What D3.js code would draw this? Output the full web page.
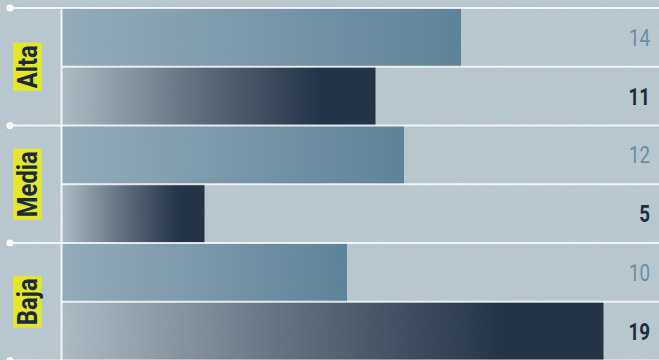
<!DOCTYPE html>
<html>
<head>
<meta charset="utf-8">
<script src="https://cdn.jsdelivr.net/npm/d3@7"></script>
<style>
  html, body { margin: 0; padding: 0; background: #b7c5cd; overflow: hidden; }
  svg { display: block; }
</style>
</head>
<body>
<div id="chart"></div>
<script>
// ---- data ----
const groups = ["Alta", "Media", "Baja"];
const series = ["Serie A", "Serie B"];
const valuesA = [14, 12, 10];
const valuesB = [11, 5, 19];
const xMax = 21;

const W = 659, H = 360;
const svg = d3.select("#chart").append("svg").attr("width", W).attr("height", H);
const defs = svg.append("defs");

// noise texture
const f = defs.append("filter").attr("id", "noise").attr("x", 0).attr("y", 0).attr("width", "100%").attr("height", "100%");
f.append("feTurbulence").attr("type", "fractalNoise").attr("baseFrequency", 0.9).attr("numOctaves", 2).attr("seed", 3).attr("result", "t");
f.append("feColorMatrix").attr("in", "t").attr("type", "matrix")
  .attr("values", "0 0 0 0 0.85  0 0 0 0 0.9  0 0 0 0 0.93  0 0 0 0.9 -0.38");

// gradients
const gA = defs.append("linearGradient").attr("id", "gradA").attr("x1", 0).attr("x2", 1).attr("y1", 0).attr("y2", 0);
gA.append("stop").attr("offset", 0).attr("stop-color", "#5e8398").attr("stop-opacity", 0.4);
gA.append("stop").attr("offset", 1).attr("stop-color", "#5e8398").attr("stop-opacity", 1);
const gB = defs.append("linearGradient").attr("id", "gradB").attr("x1", 0).attr("x2", 1).attr("y1", 0).attr("y2", 0);
gB.append("stop").attr("offset", 0).attr("stop-color", "#243346").attr("stop-opacity", 0.08);
gB.append("stop").attr("offset", 0.45).attr("stop-color", "#243346").attr("stop-opacity", 0.62);
gB.append("stop").attr("offset", 0.82).attr("stop-color", "#243346").attr("stop-opacity", 1);
gB.append("stop").attr("offset", 1).attr("stop-color", "#243346").attr("stop-opacity", 1);

svg.append("rect").attr("width", W).attr("height", H).attr("fill", "#b7c5cd");
svg.append("rect").attr("width", W).attr("height", H).attr("filter", "url(#noise)").attr("opacity", 0.35);

// scales
const x = d3.scaleLinear().domain([0, xMax]).range([62, 660.5]);
const y0 = d3.scaleBand().domain(groups).range([8, 360.5]).padding(0);
const y1 = d3.scaleBand().domain(series).range([0, y0.bandwidth()]).padding(0);

const rows = [];
groups.forEach((g, i) => {
  rows.push({ g, s: series[0], v: valuesA[i] });
  rows.push({ g, s: series[1], v: valuesB[i] });
});

// bars
svg.append("g").selectAll("rect").data(rows).join("rect")
  .attr("x", x(0))
  .attr("y", d => y0(d.g) + y1(d.s))
  .attr("width", d => x(d.v) - x(0))
  .attr("height", y1.bandwidth())
  .attr("fill", d => d.s === series[0] ? "url(#gradA)" : "url(#gradB)");

// grid lines
const lineCol = "rgba(255,255,255,0.82)";
const gl = svg.append("g");
const bounds = groups.map(g => y0(g)).concat([y0(groups[groups.length - 1]) + y0.bandwidth()]);
gl.selectAll("line.g").data(bounds).join("line").attr("class", "g")
  .attr("x1", 10).attr("x2", W).attr("y1", d => d).attr("y2", d => d)
  .attr("stroke", lineCol).attr("stroke-width", 2);
gl.selectAll("circle").data(bounds).join("circle")
  .attr("cx", 10).attr("cy", d => d).attr("r", 3.6).attr("fill", "#ffffff");
gl.selectAll("line.s").data(groups).join("line").attr("class", "s")
  .attr("x1", x(0)).attr("x2", W)
  .attr("y1", g => y0(g) + y1(series[1])).attr("y2", g => y0(g) + y1(series[1]))
  .attr("stroke", lineCol).attr("stroke-width", 2);
gl.append("line").attr("x1", 61.5).attr("x2", 61.5).attr("y1", bounds[0] - 1).attr("y2", H)
  .attr("stroke", lineCol).attr("stroke-width", 2);

// value labels
const vl = svg.append("g").selectAll("text").data(rows).join("text")
  .attr("x", 650)
  .attr("y", d => y0(d.g) + y1(d.s) + y1.bandwidth() / 2 + 8.5)
  .attr("text-anchor", "end")
  .attr("font-family", "Roboto, 'Liberation Sans', sans-serif")
  .attr("font-size", 24)
  .attr("font-weight", d => d.s === series[0] ? 400 : 700)
  .attr("fill", d => d.s === series[0] ? "#6a8ea4" : "#1f2d3d")
  .text(d => d.v);
vl.each(function () {
  const L = this.getComputedTextLength();
  this.setAttribute("textLength", L * 0.78);
  this.setAttribute("lengthAdjust", "spacingAndGlyphs");
});

// group labels
const lg = svg.append("g").selectAll("g").data(groups).join("g")
  .attr("transform", g => `translate(27.3,${y0(g) + y0.bandwidth() / 2}) rotate(-90)`);
const boxes = lg.append("rect").attr("fill", "#e2e62c");
const lt = lg.append("text")
  .attr("x", 0).attr("y", 10)
  .attr("text-anchor", "middle")
  .attr("font-family", "Roboto, 'Liberation Sans', sans-serif")
  .attr("font-weight", 700)
  .attr("font-size", 28)
  .attr("fill", "#1d2a3b")
  .text(g => g);
lt.each(function (g, i) {
  const L = this.getComputedTextLength() * 0.85;
  this.setAttribute("textLength", L);
  this.setAttribute("lengthAdjust", "spacingAndGlyphs");
  d3.select(boxes.nodes()[i])
    .attr("x", -L / 2 - 2.5).attr("width", L + 5)
    .attr("y", -14.3).attr("height", 28.7);
});
</script>
</body>
</html>
